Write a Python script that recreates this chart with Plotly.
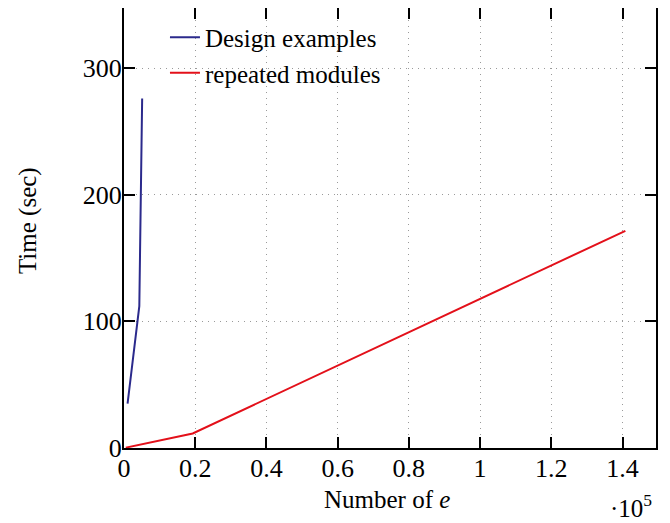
import plotly.graph_objects as go

design_x = [1000, 4300, 5100]
design_y = [35, 112, 276]
repeated_x = [500, 19300, 140800]
repeated_y = [0.3, 11.5, 171.5]

x_tickvals = [0, 20000, 40000, 60000, 80000, 100000, 120000, 140000]
x_ticktext = ["0", "0.2", "0.4", "0.6", "0.8", "1", "1.2", "1.4"]
y_tickvals = [0, 100, 200, 300]

FONT = "Liberation Serif"

fig = go.Figure()
fig.add_trace(go.Scatter(x=design_x, y=design_y, mode="lines", name="Design examples",
                         line=dict(color="#2b2a8c", width=2)))
fig.add_trace(go.Scatter(x=repeated_x, y=repeated_y, mode="lines", name="repeated modules",
                         line=dict(color="#e3101a", width=2)))

axis_common = dict(showline=True, linecolor="black", linewidth=2, mirror="ticks",
                   ticks="inside", ticklen=11, tickwidth=2, tickcolor="black",
                   showgrid=True, gridcolor="#9a9a9a", griddash="1px,5px", gridwidth=1,
                   zeroline=False, automargin=False,
                   tickfont=dict(family=FONT, size=26, color="black"))

fig.update_xaxes(range=[0, 149400], tickvals=x_tickvals, ticktext=x_ticktext,
                 ticklabelstandoff=-4, **axis_common)
fig.update_yaxes(range=[0, 347.4], tickvals=y_tickvals, ticklabelstandoff=-5, **axis_common)

fig.add_annotation(text="Number of <i>e</i>", xref="paper", yref="paper", x=0.494, y=-0.118,
                   xanchor="center", yanchor="middle", showarrow=False,
                   font=dict(family=FONT, size=25, color="black"))
fig.add_annotation(text="Time (sec)", xref="paper", yref="paper", x=-0.1805, y=0.518,
                   xanchor="center", yanchor="middle", showarrow=False, textangle=-90,
                   font=dict(family=FONT, size=25, color="black"))
fig.add_annotation(text="·10<sup>5</sup>", xref="paper", yref="paper", x=0.953, y=-0.132,
                   xanchor="center", yanchor="middle", showarrow=False,
                   font=dict(family=FONT, size=25, color="black"))

fig.update_layout(
    width=662, height=515,
    margin=dict(l=116, r=14, t=0, b=75),
    paper_bgcolor="white", plot_bgcolor="white",
    showlegend=True,
    legend=dict(x=0.077, y=0.985, xanchor="left", yanchor="top", bgcolor="rgba(255,255,255,0)",
                font=dict(family=FONT, size=25, color="black"), tracegroupgap=0),
)

fig.write_html("out.html")
